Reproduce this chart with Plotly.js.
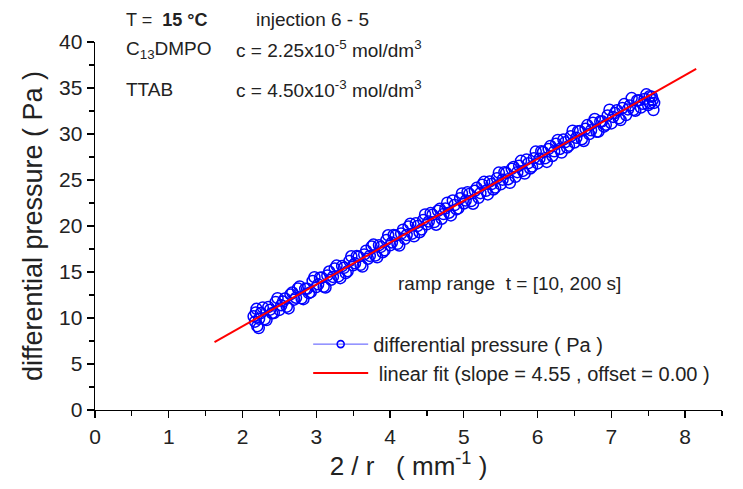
<!DOCTYPE html>
<html>
<head>
<meta charset="utf-8">
<script src="https://cdn.plot.ly/plotly-3.0.1.min.js"></script>
<style>html,body{margin:0;padding:0;background:#fff;}#chart{width:743px;height:489px;}</style>
</head>
<body>
<div id="chart"></div>
<script>
// measured data: 2/r (mm^-1) vs differential pressure (Pa) — first pass of samples
const invR = [2.15,2.17,2.18,2.19,2.20,2.22,2.25,2.30,2.35,2.40,2.45,2.50,2.55,2.60,2.65,2.70,2.75,2.80,2.85,2.90,2.95,
  3.00,3.05,3.10,3.15,3.20,3.25,3.30,3.35,3.40,3.45,3.50,3.55,3.60,3.65,3.70,3.75,3.80,3.85,3.90,3.95,
  4.00,4.05,4.10,4.15,4.20,4.25,4.30,4.35,4.40,4.45,4.50,4.55,4.60,4.65,4.70,4.75,4.80,4.85,4.90,4.95,
  5.00,5.05,5.10,5.15,5.20,5.25,5.30,5.35,5.40,5.45,5.50,5.55,5.60,5.65,5.70,5.75,5.80,5.85,5.90,5.95,
  6.00,6.05,6.10,6.15,6.20,6.25,6.30,6.35,6.40,6.45,6.50,6.55,6.60,6.65,6.70,6.75,6.80,6.85,6.90,6.95,
  7.00,7.05,7.10,7.15,7.20,7.25,7.30,7.35,7.40,7.45,7.50,7.52,7.55,7.56,7.57,7.58];
const pressure = [10.18,9.60,10.60,11.00,9.11,8.90,10.54,9.87,11.19,10.52,11.75,10.88,11.80,11.23,12.56,11.99,13.21,12.14,13.17,12.70,14.02,
  13.35,14.38,13.41,14.63,14.16,15.39,14.52,15.64,14.87,16.20,15.73,16.75,15.78,16.91,16.44,17.76,16.79,17.92,17.15,18.47,
  17.90,19.03,18.06,19.18,18.61,19.94,19.17,20.29,19.32,20.65,20.18,21.40,20.43,21.66,20.79,21.91,21.44,22.77,21.80,23.02,
  22.45,23.68,22.71,23.83,23.06,24.49,23.82,24.84,23.97,25.20,24.53,25.85,25.08,26.21,25.34,26.56,25.99,27.22,26.25,27.37,
  26.80,28.13,27.36,28.38,27.61,28.94,28.37,29.39,28.52,29.75,29.08,30.30,29.43,30.56,29.99,31.21,30.24,31.37,30.80,32.02,
  31.15,32.28,31.71,32.83,32.06,33.09,32.62,33.64,32.87,33.80,33.13,34.10,34.05,33.70,32.60,33.38];
// second pass of samples (interleaved)
const invR2 = [2.225,2.275,2.325,2.375,2.425,2.475,2.525,2.575,2.625,2.675,2.725,2.775,2.825,2.875,2.925,2.975,
  3.025,3.075,3.125,3.175,3.225,3.275,3.325,3.375,3.425,3.475,3.525,3.575,3.625,3.675,3.725,3.775,3.825,3.875,3.925,3.975,
  4.025,4.075,4.125,4.175,4.225,4.275,4.325,4.375,4.425,4.475,4.525,4.575,4.625,4.675,4.725,4.775,4.825,4.875,4.925,4.975,
  5.025,5.075,5.125,5.175,5.225,5.275,5.325,5.375,5.425,5.475,5.525,5.575,5.625,5.675,5.725,5.775,5.825,5.875,5.925,5.975,
  6.025,6.075,6.125,6.175,6.225,6.275,6.325,6.375,6.425,6.475,6.525,6.575,6.625,6.675,6.725,6.775,6.825,6.875,6.925,6.975,
  7.025,7.075,7.125,7.175,7.225,7.275,7.325,7.375,7.425,7.475,7.525];
const pressure2 = [9.92,11.15,9.78,10.91,10.53,12.16,11.39,12.12,11.04,12.77,12.20,13.43,12.05,13.18,12.81,14.44,
  13.66,14.39,13.32,15.05,14.47,15.70,14.33,15.46,15.08,16.71,15.94,16.67,15.59,17.32,16.75,17.98,16.60,17.73,17.36,18.99,
  18.21,18.94,17.87,19.60,19.02,20.25,18.88,20.01,19.63,21.26,20.49,21.22,20.14,21.87,21.30,22.53,21.15,22.28,21.91,23.54,
  22.76,23.49,22.42,24.15,23.57,24.80,23.43,24.56,24.18,25.81,25.04,25.77,24.69,26.42,25.85,27.08,25.70,26.83,26.46,28.09,
  27.31,28.04,26.97,28.70,28.12,29.35,27.98,29.11,28.73,30.36,29.59,30.32,29.24,30.97,30.40,31.63,30.25,31.38,31.01,32.64,
  31.86,32.59,31.52,33.25,32.67,33.90,32.53,33.66,33.28,34.31,33.34];
// linear fit line end points
const fitX = [1.62, 8.15];
const fitY = [7.37, 37.08];
const xTicks = [0,1,2,3,4,5,6,7,8];
const yTicks = [0,5,10,15,20,25,30,35,40];
const seriesName = 'differential pressure ( Pa )';
const fitName = ' linear fit (slope = 4.55 , offset = 0.00 )';

const FONT = 'Liberation Sans, Arial, sans-serif';
const markerStyle = {symbol: 'circle-open', size: 11, color: '#0000ff', line: {width: 1.5, color: '#0000ff'}};

const traces = [
  {x: invR, y: pressure, type: 'scatter', mode: 'markers', showlegend: false, marker: markerStyle},
  {x: invR2, y: pressure2, type: 'scatter', mode: 'markers', showlegend: false, marker: markerStyle},
  {x: [null], y: [null], type: 'scatter', mode: 'lines+markers', name: seriesName,
   line: {color: '#5050ff', width: 1}, marker: {symbol: 'circle-open', size: 7, color: '#0000ff', line: {width: 1.6}}},
  {x: fitX, y: fitY, type: 'scatter', mode: 'lines', name: fitName,
   line: {color: '#ff0000', width: 2}}
];

const axisCommon = {
  showgrid: false, zeroline: false, showline: true, linecolor: '#000', linewidth: 1.4,
  ticks: 'outside', ticklen: 7, tickwidth: 1.3, tickcolor: '#000',
  tickfont: {family: FONT, size: 21, color: '#222'}
};

const layout = {
  width: 743, height: 489,
  margin: {l: 95, r: 21, t: 42, b: 79},
  paper_bgcolor: '#fff', plot_bgcolor: '#fff',
  font: {family: FONT, color: '#222'},
  xaxis: Object.assign({}, axisCommon, {
    range: [0, 8.5], tickvals: xTicks, ticktext: xTicks.map(String),
    minor: {dtick: 0.5, tick0: 0, ticks: 'outside', ticklen: 5, tickwidth: 1.2, tickcolor: '#000'},
    title: {text: '2 / r   ( mm<sup>-1</sup> )', font: {family: FONT, size: 26, color: '#222'}, standoff: 10}
  }),
  yaxis: Object.assign({}, axisCommon, {
    range: [0, 40], tickvals: yTicks, ticktext: yTicks.map(String),
    minor: {dtick: 2.5, tick0: 0, ticks: 'outside', ticklen: 5, tickwidth: 1.2, tickcolor: '#000'},
    title: {text: 'differential pressure ( Pa )', font: {family: FONT, size: 27, color: '#222'}, standoff: 8}
  }),
  legend: {x: 0.34, y: 0.232, xanchor: 'left', yanchor: 'top', bgcolor: 'rgba(0,0,0,0)',
    font: {family: FONT, size: 20, color: '#222'}, itemwidth: 55, tracegroupgap: 0},
  annotations: [
    {xref: 'paper', yref: 'paper', x: 0.046, y: 1.06, xanchor: 'left', yanchor: 'middle', showarrow: false,
     text: 'T =  <b>15 °C</b>', font: {family: FONT, size: 18, color: '#222'}},
    {xref: 'paper', yref: 'paper', x: 0.253, y: 1.06, xanchor: 'left', yanchor: 'middle', showarrow: false,
     text: 'injection 6 - 5', font: {family: FONT, size: 19, color: '#222'}},
    {xref: 'paper', yref: 'paper', x: 0.046, y: 0.978, xanchor: 'left', yanchor: 'middle', showarrow: false,
     text: 'C<sub>13</sub>DMPO', font: {family: FONT, size: 19, color: '#222'}},
    {xref: 'paper', yref: 'paper', x: 0.222, y: 0.981, xanchor: 'left', yanchor: 'middle', showarrow: false,
     text: 'c = 2.25x10<sup>-5</sup> mol/dm<sup>3</sup>', font: {family: FONT, size: 19, color: '#222'}},
    {xref: 'paper', yref: 'paper', x: 0.046, y: 0.870, xanchor: 'left', yanchor: 'middle', showarrow: false,
     text: 'TTAB', font: {family: FONT, size: 19, color: '#222'}},
    {xref: 'paper', yref: 'paper', x: 0.222, y: 0.872, xanchor: 'left', yanchor: 'middle', showarrow: false,
     text: 'c = 4.50x10<sup>-3</sup> mol/dm<sup>3</sup>', font: {family: FONT, size: 19, color: '#222'}},
    {xref: 'paper', yref: 'paper', x: 0.48, y: 0.345, xanchor: 'left', yanchor: 'middle', showarrow: false,
     text: 'ramp range  t = [10, 200 s]', font: {family: FONT, size: 19, color: '#222'}}
  ]
};

Plotly.newPlot('chart', traces, layout, {displayModeBar: false, staticPlot: true});
</script>
</body>
</html>
